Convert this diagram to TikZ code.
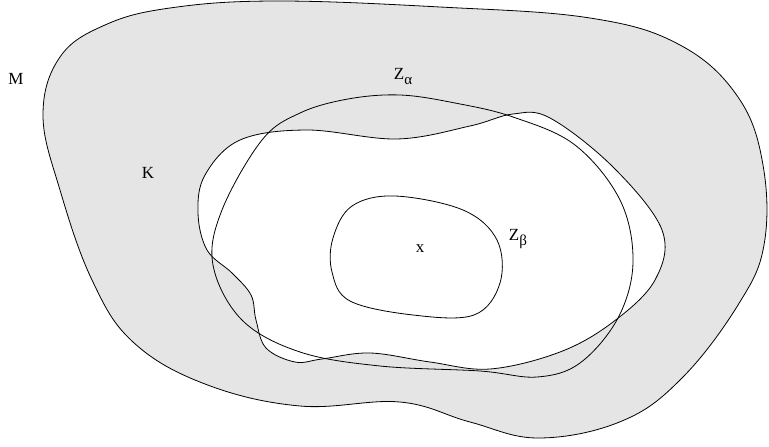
\documentclass[tikz,border=0pt]{standalone}
\usepackage{fontspec}
\setmainfont{Liberation Serif}
\begin{document}
\begin{tikzpicture}[x=1pt,y=-1pt,
  curve/.style={line width=0.8pt,black},
  lbl/.style={font=\fontsize{17}{19}\selectfont,inner sep=0pt}]
\newcommand{\subsc}[1]{\raisebox{-5pt}{\fontsize{15}{16}\selectfont #1}}
\useasboundingbox (0,0) rectangle (769,447);
% M
\draw[curve,fill={rgb,255:red,229;green,229;blue,229}] plot[smooth cycle,tension=0.65] coordinates {
(170,8) (275,1) (440,7) (590,18) (680,45) (738,97) (763,165) (764,245) (738,305) (682,378) (622,421) (539,438) (470,422) (400,402) (300,406) (205,384) (133,342) (92,280) (60,190) (43,115) (60,57) (105,25)};
% K
\draw[curve,fill=white] plot[smooth cycle,tension=0.6] coordinates {
(205,175) (240,140) (307,130) (397,139) (470,126) (513,114) (550,118) (613,167) (662,230) (655,280) (613,322) (560,352) (490,369) (430,362) (370,353) (322,359) (295,362) (266,348) (256,320) (251,295) (232,273) (207,250) (198,213)};
% Z alpha
\draw[curve] plot[smooth cycle,tension=0.6] coordinates {
(400,95) (455,103) (513,117) (575,145) (620,200) (633,262) (618,318) (580,363) (537,377) (480,371) (380,366) (300,352) (242,320) (213,265) (222,210) (262,140) (300,113) (348,99)};
% Z beta
\draw[curve] plot[smooth cycle,tension=0.6] coordinates {
(333,238) (352,206) (395,196) (463,210) (497,240) (500,283) (474,315) (413,315) (350,301) (332,272)};
\node[lbl] (lM) at (16,79) {M};
\node[lbl] (lK) at (148,173) {K};
\node[lbl] (lx) at (420,249) {x};
\node[lbl] (lZa) at (403,77) {Z\subsc{α}};
\node[lbl] (lZb) at (518,239) {Z\subsc{β}};
\end{tikzpicture}
\end{document}
